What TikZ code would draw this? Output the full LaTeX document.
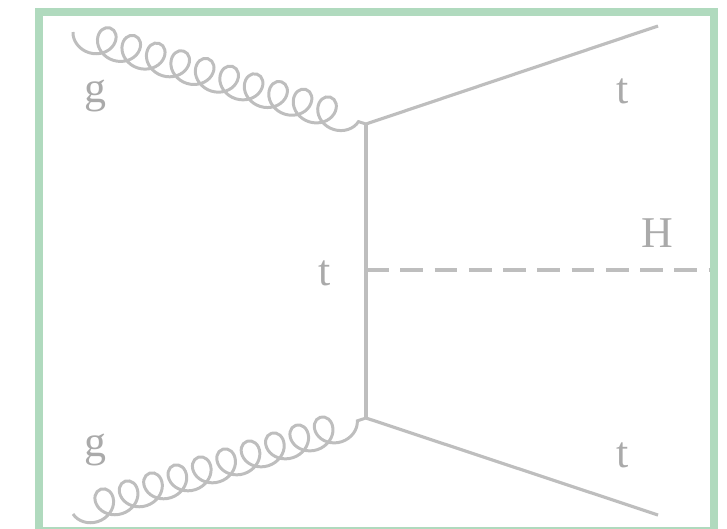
\documentclass[tikz,border=0pt]{standalone}
\usepackage{fontspec}
\setmainfont{Liberation Serif}
\usepackage{xcolor}
\usepackage{tikz}
\usetikzlibrary{decorations.pathmorphing}
\definecolor{linegray}{RGB}{190,190,190}
\definecolor{textgray}{RGB}{170,170,170}
\definecolor{framegreen}{RGB}{176,218,190}

\begin{document}
\begin{tikzpicture}[
    x=0.02cm, y=-0.02cm,
    every node/.style={font=\fontsize{25}{30}\selectfont, text=textgray},
    fermion/.style={draw=linegray, line width=1.8pt},
    scalar/.style={draw=linegray, line width=1.8pt, dash pattern=on 13pt off 6.5pt},
    gluon/.style={draw=linegray, line width=1.7pt, decorate,
        decoration={coil, aspect=1.0, segment length=14.6pt, amplitude=8.5pt, mirror}},
    frame/.style={draw=framegreen, line width=4.5pt}
]
\useasboundingbox (0,0) rectangle (727,528);
\clip (0,0) rectangle (727,528);
\draw[frame] (39,12) rectangle (714,531);
% vertices and outer legs
\coordinate (vtop) at (366,124);
\coordinate (vbot) at (366,418);
\coordinate (vmid) at (366,270);
\coordinate (gin1) at (73,32);
\coordinate (gin2) at (73,514);
\coordinate (tout1) at (658,26);
\coordinate (tout2) at (658,515);
\coordinate (hout) at (710,270);
% lines
\draw[gluon] (gin1) -- (vtop);
\draw[gluon] (gin2) -- (vbot);
\draw[fermion] (vtop) -- (tout1);
\draw[fermion] (vbot) -- (tout2);
\draw[fermion] (vtop) -- (vbot);
\draw[scalar] (vmid) -- (hout);
% labels
\node (g1) at (95,96) {g};
\node (g2) at (95,450) {g};
\node (t1) at (623,91) {t};
\node (t2) at (623,455) {t};
\node (tm) at (325,273) {t};
\node (h) at (657,233) {H};
\end{tikzpicture}
\end{document}
